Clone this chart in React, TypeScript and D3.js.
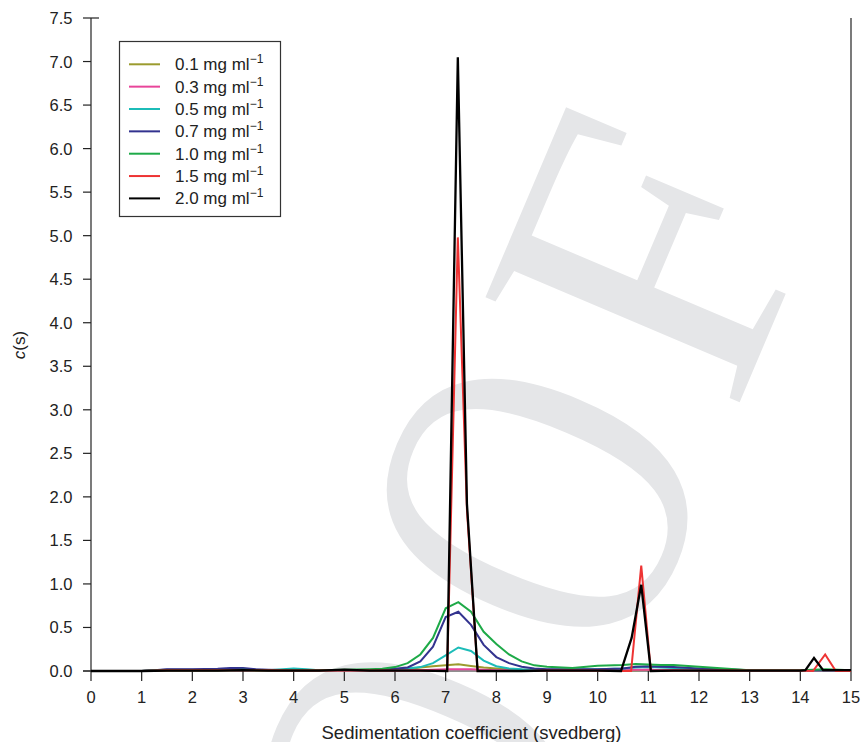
import React from "react";
import * as d3 from "d3";

// ---------- data ----------
const S_GRID = [0, 0.5, 1.0, 1.25, 1.5, 2.0, 2.5, 2.75, 3.0, 3.25, 3.5, 4.0, 4.25, 4.5, 5.0, 5.5, 5.75, 6.0, 6.25, 6.5, 6.75, 7.0, 7.25, 7.5, 7.75, 8.0, 8.25, 8.5, 8.75, 9.0, 9.5, 10.0, 10.5, 10.75, 11.0, 11.25, 11.5, 12.0, 12.5, 13.0, 13.5, 14.0, 14.5, 15.0];

const C_01 = [0, 0, 0, 0.005, 0.01, 0.01, 0.01, 0.015, 0.015, 0.01, 0.01, 0.005, 0.005, 0.005, 0.01, 0.01, 0.01, 0.015, 0.02, 0.04, 0.055, 0.065, 0.077, 0.057, 0.04, 0.03, 0.02, 0.015, 0.01, 0.01, 0.005, 0.005, 0.01, 0.01, 0.015, 0.01, 0.01, 0.01, 0.005, 0.005, 0.005, 0.005, 0.005, 0.005];
const C_03 = [0, 0, 0, 0.01, 0.015, 0.015, 0.02, 0.02, 0.02, 0.015, 0.01, 0.01, 0.01, 0.01, 0.01, 0.01, 0.01, 0.01, 0.01, 0.01, 0.015, 0.02, 0.02, 0.02, 0.015, 0.01, 0.01, 0.01, 0.01, 0.01, 0.01, 0.01, 0.01, 0.015, 0.015, 0.01, 0.01, 0.01, 0.01, 0.005, 0.005, 0.005, 0.005, 0.005];
const C_05 = [0, 0, 0, 0.01, 0.015, 0.015, 0.01, 0.015, 0.02, 0.015, 0.01, 0.03, 0.02, 0.01, 0.01, 0.01, 0.015, 0.02, 0.03, 0.045, 0.09, 0.18, 0.27, 0.23, 0.12, 0.055, 0.03, 0.02, 0.015, 0.015, 0.015, 0.02, 0.03, 0.04, 0.045, 0.04, 0.035, 0.02, 0.015, 0.01, 0.01, 0.01, 0.01, 0.01];
const C_07 = [0, 0, 0, 0.01, 0.02, 0.02, 0.025, 0.035, 0.035, 0.02, 0.015, 0.01, 0.01, 0.01, 0.01, 0.01, 0.015, 0.025, 0.04, 0.11, 0.28, 0.62, 0.68, 0.53, 0.3, 0.16, 0.09, 0.05, 0.03, 0.02, 0.02, 0.02, 0.03, 0.05, 0.055, 0.05, 0.045, 0.03, 0.02, 0.01, 0.01, 0.01, 0.01, 0.01];
const C_10 = [0, 0, 0, 0.005, 0.01, 0.01, 0.01, 0.01, 0.015, 0.01, 0.01, 0.01, 0.01, 0.01, 0.015, 0.02, 0.025, 0.045, 0.09, 0.19, 0.38, 0.72, 0.79, 0.68, 0.45, 0.31, 0.19, 0.11, 0.065, 0.05, 0.035, 0.06, 0.07, 0.08, 0.075, 0.07, 0.07, 0.05, 0.03, 0.01, 0.01, 0.01, 0.02, 0.01];

const S_15 = [0, 0.5, 1.0, 1.5, 2.0, 2.5, 3.0, 3.5, 4.0, 4.5, 5.0, 5.5, 6.0, 6.5, 7.03, 7.24, 7.42, 7.63, 8.0, 8.5, 9.0, 9.5, 10.0, 10.5, 10.66, 10.86, 11.05, 11.5, 12.0, 12.5, 13.0, 13.5, 14.0, 14.25, 14.49, 14.7, 15.0];
const C_15 = [0, 0, 0, 0.01, 0.01, 0.01, 0.01, 0.01, 0.005, 0.005, 0.01, 0.005, 0.005, 0.005, 0, 4.98, 1.85, 0, 0, 0, 0.005, 0.005, 0.005, 0, 0, 1.21, 0, 0.005, 0.005, 0.005, 0.005, 0.005, 0.005, 0, 0.19, 0, 0];

const S_20 = [0, 0.5, 1.0, 1.5, 2.0, 2.5, 3.0, 3.5, 4.0, 4.5, 5.0, 5.5, 6.0, 6.5, 7.03, 7.24, 7.42, 7.63, 8.0, 8.5, 9.0, 9.5, 10.0, 10.46, 10.67, 10.86, 11.05, 11.5, 12.0, 12.5, 13.0, 13.5, 14.0, 14.1, 14.27, 14.45, 15.0];
const C_20 = [0, 0, 0, 0.005, 0.005, 0.005, 0.01, 0.005, 0.005, 0.005, 0.015, 0.005, 0.005, 0.005, 0, 7.05, 1.92, 0, 0, 0, 0.005, 0.005, 0.005, 0, 0.38, 0.99, 0, 0.005, 0.005, 0.005, 0.005, 0.005, 0.005, 0.01, 0.15, 0.01, 0.01];

const SERIES_LABELS = ["0.1", "0.3", "0.5", "0.7", "1.0", "1.5", "2.0"];
const SERIES_COLORS = ["#9b9b2e", "#e8459a", "#1cbcb8", "#33338f", "#1eaa48", "#ee3333", "#000000"];

const X_TICKS = [0, 1, 2, 3, 4, 5, 6, 7, 8, 9, 10, 11, 12, 13, 14, 15];
const Y_TICKS = [0, 0.5, 1.0, 1.5, 2.0, 2.5, 3.0, 3.5, 4.0, 4.5, 5.0, 5.5, 6.0, 6.5, 7.0, 7.5];

const FONT = "'Liberation Sans', Arial, Helvetica, sans-serif";

export default function App() {
  const W = 863, H = 742;
  const x = d3.scaleLinear().domain([0, 15]).range([91, 851]);
  const y = d3.scaleLinear().domain([0, 7.5]).range([671, 18]);

  const seriesS = [S_GRID, S_GRID, S_GRID, S_GRID, S_GRID, S_15, S_20];
  const seriesC = [C_01, C_03, C_05, C_07, C_10, C_15, C_20];

  const line = d3.line<[number, number]>().x(d => x(d[0])).y(d => y(d[1]));

  const widths = [2, 2, 2, 2, 2, 2, 2.3];

  return (
    <svg width={W} height={H} style={{ position: "absolute", left: 0, top: 0, background: "#fff" }}>
      {/* watermark */}
      <g transform="rotate(-67)" fill="#e5e6e8" fontFamily="'Liberation Serif', 'DejaVu Serif', serif" fontSize={420}>
        <text transform="translate(-561,689) scale(0.83,1.08)" y={139} textAnchor="middle">O</text>
        <text transform="translate(-253,689) scale(0.83,1.08)" y={139} textAnchor="middle">O</text>
        <text x={-96} y={838} textAnchor="start">F</text>
      </g>

      {/* axes */}
      <g stroke="#222" strokeWidth={1.2} fill="none">
        <line x1={91} y1={18} x2={91} y2={671} />
        <line x1={851} y1={18} x2={851} y2={671} />
        <line x1={83} y1={671} x2={851} y2={671} />
        {Y_TICKS.map(t => (
          <line key={"yt" + t} x1={83} x2={t === 7.5 ? 99 : 91} y1={y(t)} y2={y(t)} />
        ))}
        {X_TICKS.map(t => (
          <line key={"xt" + t} x1={x(t)} x2={x(t)} y1={671} y2={681} />
        ))}
      </g>

      {/* series */}
      <g fill="none" strokeLinejoin="miter">
        {seriesC.map((cs, i) => {
          const pts = cs.map((c, j) => [seriesS[i][j], c] as [number, number]);
          return <path key={i} d={line(pts) || ""} stroke={SERIES_COLORS[i]} strokeWidth={widths[i]} />;
        })}
      </g>

      {/* tick labels */}
      <g fontFamily={FONT} fontSize={16.5} fill="#222">
        {Y_TICKS.map(t => (
          <text key={"yl" + t} x={72.5} y={y(t) + 6} textAnchor="end">{t.toFixed(1)}</text>
        ))}
        {X_TICKS.map(t => (
          <text key={"xl" + t} x={x(t)} y={703} textAnchor="middle">{t}</text>
        ))}
      </g>

      {/* axis titles */}
      <text x={471.5} y={739} textAnchor="middle" fontFamily={FONT} fontSize={18.5} fill="#222">
        Sedimentation coefficient (svedberg)
      </text>
      <text transform="translate(25,345) rotate(-90)" textAnchor="middle" fontFamily={FONT} fontSize={17} fill="#222">
        <tspan fontStyle="italic">c</tspan>(s)
      </text>

      {/* legend */}
      <rect x={119.5} y={41.5} width={161} height={175} fill="#fff" stroke="#333" strokeWidth={1.2} />
      {SERIES_LABELS.map((lab, i) => {
        const cy = 64.3 + i * 22.35;
        return (
          <g key={"lg" + i}>
            <line x1={129} x2={160} y1={cy} y2={cy} stroke={SERIES_COLORS[i]} strokeWidth={2} />
            <text x={175} y={cy + 6} fontFamily={FONT} fontSize={17} fill="#222">
              {lab} mg ml<tspan dy={-7} fontSize={12}>−1</tspan>
            </text>
          </g>
        );
      })}
    </svg>
  );
}
